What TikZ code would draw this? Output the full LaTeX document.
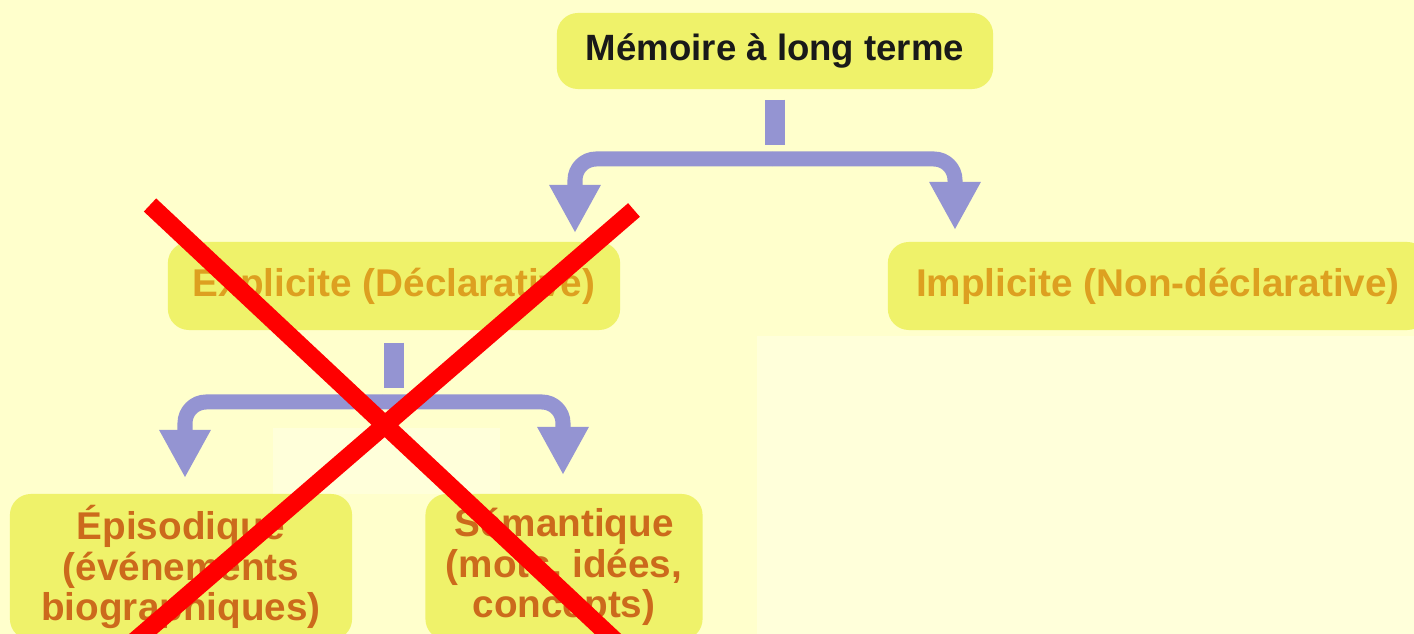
\documentclass[tikz,border=0pt]{standalone}
\usepackage{fontspec}
\setmainfont{Liberation Sans}
\usetikzlibrary{arrows.meta}

\definecolor{bgyellow}{HTML}{FFFFCC}
\definecolor{paleyellow}{HTML}{FFFFDA}
\definecolor{boxyellow}{HTML}{EFF26A}
\definecolor{arrowblue}{HTML}{9494D2}
\definecolor{goldtext}{HTML}{DDA020}
\definecolor{rusttext}{HTML}{CC6A1C}
\definecolor{crossred}{HTML}{FF0000}

\tikzset{
  membox/.style={fill=boxyellow, rounded corners=6pt, inner sep=0pt, align=center},
  toplevel/.style={membox, text=black!90, font=\bfseries\fontsize{10.4}{12}\selectfont},
  levelone/.style={membox, text=goldtext, font=\bfseries\fontsize{11}{12}\selectfont},
  leveltwo/.style={membox, text=rusttext, font=\bfseries\fontsize{11}{11.6}\selectfont},
  stub/.style={arrowblue, line width=0.2cm},
  branch/.style={arrowblue, line width=0.15cm, rounded corners=6pt,
    -{Triangle[width=0.48cm,length=0.48cm]}},
  redcross/.style={crossred, line width=0.18cm}
}

\begin{document}
\begin{tikzpicture}[x=0.01cm,y=-0.01cm]
  \useasboundingbox (0,0) rectangle (1414,634);
  \fill[bgyellow] (0,0) rectangle (1414,634);
  \fill[paleyellow] (757,336) rectangle (1414,634);
  \fill[paleyellow] (273,428) rectangle (500,494);

  % boxes
  \node[toplevel, minimum width=4.36cm, minimum height=0.76cm] (ltm) at (775,51) {Mémoire à long terme};
  \node[levelone, minimum width=4.52cm, minimum height=0.88cm] (expl) at (394,286) {Explicite (Déclarative)};
  \node[levelone, minimum width=5.40cm, minimum height=0.88cm] (impl) at (1158,286) {Implicite (Non-déclarative)};
  \node[leveltwo, minimum width=3.42cm, minimum height=1.46cm] (epis) at (181,567) {Épisodique\\(événements\\biographiques)};
  \node[leveltwo, minimum width=2.77cm, minimum height=1.46cm] (sema) at (564,567) {Sémantique\\(mots, idées,\\concepts)};

  % first split
  \coordinate (fork1) at (772,159);
  \coordinate (tipE) at (575,233);
  \coordinate (tipI) at (955,230);
  \draw[stub] ([yshift=-0.1cm]ltm.south) -- ++(0,45);
  \draw[branch] (fork1) -| (tipE);
  \draw[branch] (fork1) -| (tipI);

  % second split
  \coordinate (fork2) at (382,402);
  \coordinate (tipEp) at (185,478);
  \coordinate (tipSe) at (563,475);
  \draw[stub] ([yshift=-0.12cm]expl.south) -- ++(0,45);
  \draw[branch] (fork2) -| (tipEp);
  \draw[branch] (fork2) -| (tipSe);

  % red cross
  \draw[redcross] (150,205) -- (641,665);
  \draw[redcross] (634,210) -- (107,665);
\end{tikzpicture}
\end{document}
